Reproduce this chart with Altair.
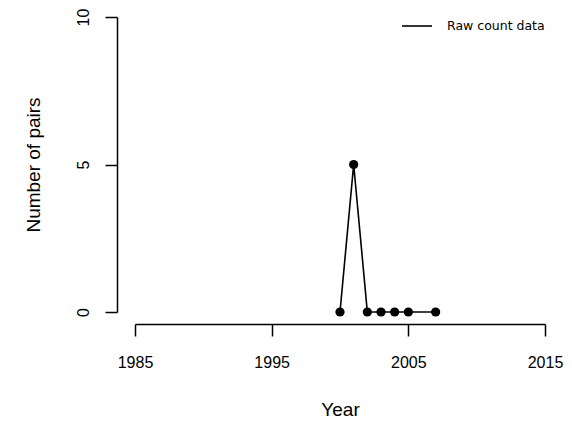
import altair as alt
import pandas as pd

years = [2000, 2001, 2002, 2003, 2004, 2005, 2007]
pairs = [0, 5, 0, 0, 0, 0, 0]
series = ["Raw count data"] * len(years)
x_ticks = [1985, 1995, 2005, 2015]
y_ticks = [0, 5, 10]

df = pd.DataFrame({"Year": years, "Pairs": pairs, "series": series})

FONT = "Liberation Sans"

x = alt.X("Year:Q", scale=alt.Scale(domain=[1985, 2015], nice=False, zero=False),
          axis=alt.Axis(values=x_ticks, format="d", title="Year", offset=12,
                        tickSize=12, labelPadding=18, labelFontSize=16, labelFlush=False,
                        titleFontSize=19, titlePadding=30, labelFont=FONT, titleFont=FONT,
                        titleFontWeight="normal"))
y = alt.Y("Pairs:Q", scale=alt.Scale(domain=[0, 10], nice=False),
          axis=alt.Axis(values=y_ticks, title="Number of pairs", offset=18,
                        tickSize=12, labelPadding=14, labelFontSize=16, labelAngle=270,
                        labelFlush=False,
                        titleFontSize=19, titlePadding=32, labelFont=FONT, titleFont=FONT,
                        titleFontWeight="normal"))

line = alt.Chart(df).mark_line(strokeWidth=1.6).encode(
    x=x, y=y,
    color=alt.Color("series:N", scale=alt.Scale(range=["black"]),
                    legend=alt.Legend(title=None, orient="none", legendX=266, legendY=-7,
                                      symbolType="stroke", symbolSize=900,
                                      symbolStrokeWidth=1.6, labelOffset=14,
                                      labelFont="DejaVu Sans", labelFontSize=12.5,
                                      labelColor="black"))
)
points = alt.Chart(df).mark_circle(size=85, color="black", opacity=1).encode(x=x, y=y)

chart = alt.layer(line, points).properties(
    width=410, height=295,
    autosize=alt.AutoSizeParams(type="none"),
    padding={"left": 127, "top": 9, "right": 19, "bottom": 108},
    background="white",
).configure_view(stroke=None).configure_axis(
    grid=False, domainColor="black", tickColor="black", labelColor="black",
    titleColor="black", domainWidth=1.5, tickWidth=1.5
)

chart.save("out.html", embed_options={"renderer": "svg", "actions": False})
